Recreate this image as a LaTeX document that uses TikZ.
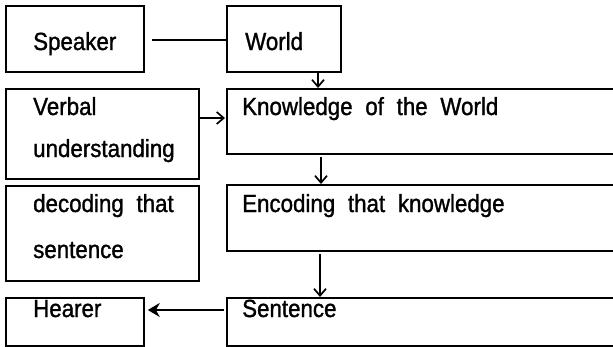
\documentclass[tikz,border=0pt]{standalone}
\usepackage{fontspec}
\setmainfont[WordSpace=2.05,FakeStretch=0.9,FakeBold=1.2]{Liberation Sans}
\usetikzlibrary{arrows.meta}
\begin{document}
\begin{tikzpicture}[x=1pt,y=-1pt,
  box/.style={draw=black,line width=1.8pt,rectangle,anchor=north west,inner sep=0pt},
  txt/.style={anchor=base west,inner sep=0pt,font=\fontsize{24.8}{44}\selectfont,align=left},
  arr/.style={line width=1.7pt,-{Straight Barb[length=7pt,width=12pt,line width=1.7pt]}},
  bigarr/.style={line width=2.8pt,-{Stealth[length=12pt,width=14pt]}}]
\useasboundingbox (0,0) rectangle (613,346);
% boxes
\node[box,minimum width=138pt,minimum height=66pt] (spk) at (5,5) {};
\node[box,minimum width=114pt,minimum height=66pt] (wld) at (226,5) {};
\node[box,minimum width=193pt,minimum height=90pt] (vrb) at (5,88) {};
\node[box,minimum width=400pt,minimum height=65pt] (knw) at (226,88) {};
\node[box,minimum width=193pt,minimum height=95pt] (dec) at (5,185) {};
\node[box,minimum width=400pt,minimum height=66pt] (enc) at (226,184) {};
\node[box,minimum width=138pt,minimum height=48pt] (hea) at (5,297) {};
\node[box,minimum width=400pt,minimum height=48pt] (snt) at (226,297) {};
% texts
\node[txt] (tspk) at (33,50) {Speaker};
\node[txt] (twld) at (245,50) {World};
\node[txt,font=\fontsize{24.8}{42}\selectfont] (tvrb) at (33,157) {Verbal\\understanding};
\node[txt] (tknw) at (242,115) {Knowledge of the World};
\node[txt,font=\fontsize{24.8}{46}\selectfont] (tdec) at (33,258) {decoding that\\sentence};
\node[txt] (tenc) at (242,212) {Encoding that knowledge};
\node[txt] (thea) at (33,317) {Hearer};
\node[txt] (tsnt) at (242,317) {Sentence};
% helper coordinates
\coordinate (c1) at (150,40);
\coordinate (c2) at (222,40);
\coordinate (v1) at (318,0);
\coordinate (v2) at (321,0);
\coordinate (v3) at (320,0);
\coordinate (h1) at (0,118);
\coordinate (h2) at (0,310);
% connectors
\draw[line width=2pt] (spk.east |- c1) ++(7,0) -- (wld.west |- c2);
\draw[arr] (wld.south -| v1) -- (knw.north -| v1);
\draw[arr] (vrb.east |- h1) -- ([xshift=-1pt]knw.west |- h1);
\draw[arr] ([yshift=-2pt]knw.south -| v2) -- (enc.north -| v2);
\draw[arr] ([yshift=-2pt]enc.south -| v3) -- (snt.north -| v3);
\draw[bigarr] ([xshift=-2pt]snt.west |- h2) -- ([xshift=3pt]hea.east |- h2);
\end{tikzpicture}
\end{document}
